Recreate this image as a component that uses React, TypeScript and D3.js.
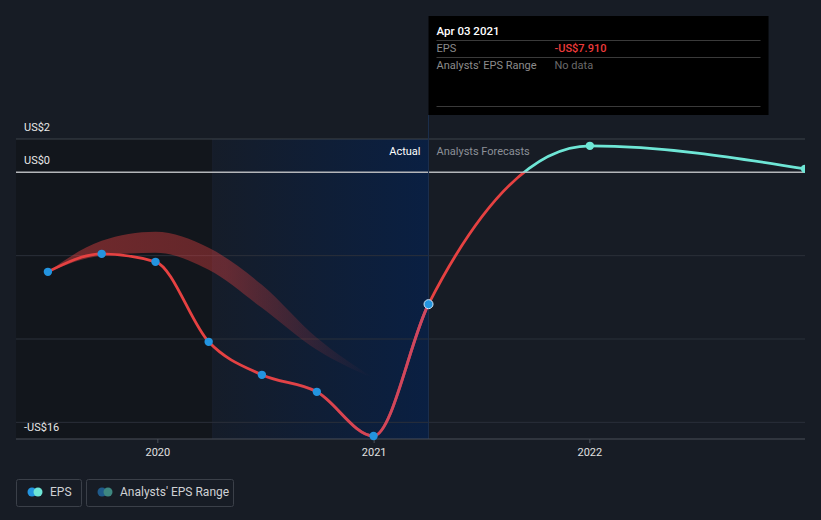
import React from "react";
import * as d3 from "d3";

const epsDates = ["2019-06-29", "2019-09-28", "2019-12-28", "2020-03-27", "2020-06-25", "2020-09-26", "2020-12-31", "2021-04-03"];
const epsValues = [-5.97, -4.89, -5.37, -10.17, -12.15, -13.17, -15.82, -7.91];

const forecastDates = ["2022-01-01", "2022-12-31"];
const forecastValues = [1.59, 0.21];

const rangeDates = ["2019-06-29", "2019-09-28", "2019-12-28", "2020-03-27", "2020-06-25", "2020-09-26", "2020-12-28"];
const rangeLow = [-5.97, -5.0, -4.83, -5.85, -8.13, -10.65, -12.33];
const rangeHigh = [-5.97, -4.11, -3.57, -4.53, -6.75, -9.93, -12.27];

const yTickValues = [2, 0, -16];
const yTickLabels = ["US$2", "US$0", "-US$16"];
const gridValues = [-5, -10, -15];
const xTickDates = ["2020-01-01", "2021-01-01", "2022-01-01"];
const xTickLabels = ["2020", "2021", "2022"];

const W = 821;
const H = 520;
const L = 16;
const R = 805;
const TOP = 139;
const BOT = 439;

const parse = (s: string) => new Date(s + "T00:00:00");

export default function App() {
  const x = d3.scaleTime().domain([parse("2019-05-06"), parse("2022-12-31")]).range([L, R]);
  const y = d3.scaleLinear().domain([-16, 2]).range([BOT, TOP]);

  const pts = epsDates.map((d, i) => ({ d: parse(d), v: epsValues[i] }));
  const fpts = forecastDates.map((d, i) => ({ d: parse(d), v: forecastValues[i] }));
  const all = [...pts, ...fpts];
  const line = d3
    .line<{ d: Date; v: number }>()
    .x((p) => x(p.d))
    .y((p) => y(p.v))
    .curve(d3.curveMonotoneX);

  const band = rangeDates.map((d, i) => ({ d: parse(d), lo: rangeLow[i], hi: rangeHigh[i] }));
  const area = d3
    .area<{ d: Date; lo: number; hi: number }>()
    .x((p) => x(p.d))
    .y0((p) => y(p.lo))
    .y1((p) => y(p.hi))
    .curve(d3.curveMonotoneX);

  const nowX = x(parse("2021-04-03"));
  const pastX = x(parse("2020-04-03"));
  const zeroY = y(0);
  const bandStart = x(band[0].d);
  const bandEnd = x(band[band.length - 1].d);
  const font = "Roboto, 'Noto Sans', sans-serif";
  const linePath = line(all) || "";

  return (
    <div style={{ position: "fixed", left: 0, top: 0, width: W, height: H }}>
      <svg width={W} height={H} style={{ display: "block", fontFamily: font }}>
        <defs>
          <linearGradient id="signGrad" gradientUnits="userSpaceOnUse" x1="0" y1={TOP} x2="0" y2={BOT}>
            <stop offset={(zeroY - TOP) / (BOT - TOP)} stopColor="#6ee6d6" />
            <stop offset={(zeroY - TOP) / (BOT - TOP)} stopColor="#e64141" />
          </linearGradient>
          <linearGradient id="pinkGrad" gradientUnits="userSpaceOnUse" x1={pastX} y1="0" x2={nowX} y2="0">
            <stop offset="0" stopColor="#cc4862" stopOpacity="0" />
            <stop offset="0.4" stopColor="#cc4862" stopOpacity="0.2" />
            <stop offset="1" stopColor="#cc4862" stopOpacity="1" />
          </linearGradient>
          <linearGradient id="bandGrad" gradientUnits="userSpaceOnUse" x1={bandStart} y1="0" x2={bandEnd} y2="0">
            <stop offset="0" stopColor="#e64141" stopOpacity="0.45" />
            <stop offset="0.55" stopColor="#e64141" stopOpacity="0.38" />
            <stop offset="1" stopColor="#e64141" stopOpacity="0" />
          </linearGradient>
          <linearGradient id="blueGrad" x1="0" y1="0" x2="1" y2="0">
            <stop offset="0" stopColor="#04214f" stopOpacity="0.1" />
            <stop offset="1" stopColor="#04214f" stopOpacity="0.7" />
          </linearGradient>
          <clipPath id="plotClip">
            <rect x={L} y={0} width={R - L} height={BOT + 2} />
          </clipPath>
          <clipPath id="blueClip">
            <rect x={pastX} y={zeroY} width={nowX - pastX} height={BOT + 5 - zeroY} />
          </clipPath>
        </defs>
        <rect x={0} y={0} width={W} height={H} fill="#171c25" />
        {/* past dark region */}
        <rect x={L} y={TOP} width={pastX - L} height={BOT - TOP} fill="#111419" opacity={0.75} />
        {/* blue last-year region */}
        <rect x={pastX} y={TOP} width={nowX - pastX} height={BOT - TOP} fill="url(#blueGrad)" />
        <line x1={pastX} x2={pastX} y1={TOP} y2={BOT} stroke="#1a2130" strokeWidth={1} />

        {/* gridlines */}
        {gridValues.map((v) => (
          <line key={v} x1={L} x2={R} y1={y(v)} y2={y(v)} stroke="#2b303a" strokeWidth={1} />
        ))}
        <line x1={L} x2={R} y1={y(2)} y2={y(2)} stroke="#3d424b" strokeWidth={1} />

        {/* analysts band */}
        <path d={area(band) || ""} fill="url(#bandGrad)" />

        {/* EPS line */}
        <g clipPath="url(#plotClip)">
          <path d={linePath} fill="none" stroke="url(#signGrad)" strokeWidth={2.8} />
        </g>
        <g clipPath="url(#blueClip)">
          <path d={linePath} fill="none" stroke="url(#pinkGrad)" strokeWidth={2.9} />
        </g>

        {/* zero line */}
        <line x1={L} x2={R} y1={zeroY} y2={zeroY} stroke="#b4b6ba" strokeWidth={1.5} />

        {/* now vertical line */}
        <line x1={nowX} x2={nowX} y1={115} y2={BOT} stroke="#1c2f4d" strokeWidth={1} />

        {/* axis */}
        <line x1={L} x2={R} y1={BOT} y2={BOT} stroke="#4a4f58" strokeWidth={1} />
        {xTickDates.map((d, i) => (
          <g key={d}>
            <line x1={x(parse(d))} x2={x(parse(d))} y1={BOT} y2={BOT + 4} stroke="#4a4f58" />
            <text x={x(parse(d))} y={BOT + 17} fill="#e0e0e0" fontSize={11} textAnchor="middle">
              {xTickLabels[i]}
            </text>
          </g>
        ))}

        {/* y labels */}
        {yTickValues.map((v, i) => (
          <text key={v} x={24} y={y(v) - 8} fill="#e8e8e8" fontSize={11}>
            {yTickLabels[i]}
          </text>
        ))}

        <text x={nowX - 8} y={155} fill="#ffffff" fontSize={11} textAnchor="end">Actual</text>
        <text x={nowX + 8} y={155} fill="#8c9098" fontSize={11}>Analysts Forecasts</text>

        {/* dots */}
        <g clipPath="url(#plotClip)">
          {pts.map((p, i) => (
            <circle
              key={i}
              cx={x(p.d)}
              cy={y(p.v)}
              r={i === pts.length - 1 ? 4.5 : 4.2}
              fill="#2394df"
              stroke={i === pts.length - 1 ? "#cfe6f7" : "none"}
              strokeWidth={1}
            />
          ))}
          {fpts.map((p, i) => (
            <circle key={i} cx={x(p.d)} cy={y(p.v)} r={4.2} fill="#6ee6d6" />
          ))}
        </g>

        {/* tooltip */}
        <rect x={nowX} y={16} width={340} height={99} fill="#000000" />
        <text x={nowX + 8} y={35} fill="#ffffff" fontSize={11.5} fontWeight={500}>Apr 03 2021</text>
        <line x1={nowX + 8} x2={nowX + 332} y1={40.5} y2={40.5} stroke="#3a3a3a" />
        <text x={nowX + 8} y={52} fill="#8c8c8c" fontSize={11}>EPS</text>
        <text x={nowX + 126} y={52} fill="#ee3b3b" fontSize={11} fontWeight={500}>-US$7.910</text>
        <line x1={nowX + 8} x2={nowX + 332} y1={57.5} y2={57.5} stroke="#3a3a3a" />
        <text x={nowX + 8} y={69} fill="#8c8c8c" fontSize={11}>Analysts' EPS Range</text>
        <text x={nowX + 126} y={69} fill="#6a6a6a" fontSize={11}>No data</text>
        <line x1={nowX + 8} x2={nowX + 332} y1={106.5} y2={106.5} stroke="#3a3a3a" />

        {/* legend */}
        <rect x={16.5} y={479.5} width={65} height={27} rx={2} fill="none" stroke="#3b4049" />
        <circle cx={32} cy={492} r={4.5} fill="#2394df" />
        <circle cx={38} cy={492} r={4.5} fill="#6ee6d6" />
        <text x={50} y={496} fill="#cfd1d4" fontSize={12}>EPS</text>
        <rect x={86.5} y={479.5} width={147} height={27} rx={2} fill="none" stroke="#3b4049" />
        <circle cx={102} cy={492} r={4.5} fill="#1f5a8a" />
        <circle cx={108} cy={492} r={4.5} fill="#3e8780" />
        <text x={120} y={496} fill="#cfd1d4" fontSize={12}>Analysts' EPS Range</text>
      </svg>
    </div>
  );
}
